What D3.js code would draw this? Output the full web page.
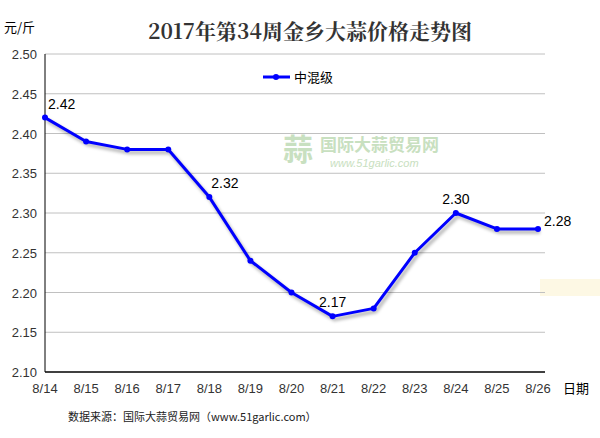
<!DOCTYPE html><html><head><meta charset="utf-8"><script src="https://d3js.org/d3.v7.min.js"></script>
<style>body{margin:0;background:#fff}svg{display:block}</style></head><body><svg id="c" width="600" height="438"></svg>
<script>
const categories=["8/14","8/15","8/16","8/17","8/18","8/19","8/20","8/21","8/22","8/23","8/24","8/25","8/26"];
const values=[2.42,2.39,2.38,2.38,2.32,2.24,2.20,2.17,2.18,2.25,2.30,2.28,2.28];
const yTicks=[2.10,2.15,2.20,2.25,2.30,2.35,2.40,2.45,2.50];
const labeled=[0,4,7,10,12];
const svg=d3.select("#c");
const x=d3.scalePoint().domain(categories).range([45,538]);
const y=d3.scaleLinear().domain([2.10,2.50]).range([372,54]);
svg.append("rect").attr("x",540).attr("y",279).attr("width",60).attr("height",17).attr("fill","#fdf8e4");
svg.append("g").selectAll("line").data(yTicks.slice(1)).join("line").attr("x1",45).attr("x2",545).attr("y1",d=>y(d)).attr("y2",d=>y(d)).attr("stroke","#c0c0c0");
svg.append("line").attr("x1",45).attr("x2",45).attr("y1",54).attr("y2",372).attr("stroke","#000");
svg.append("line").attr("x1",45).attr("x2",545).attr("y1",372).attr("y2",372).attr("stroke","#000").attr("stroke-width",1.5);
const f="Arial, 'Liberation Sans', sans-serif";
const cjk="'Noto Sans CJK SC', sans-serif";
svg.append("g").selectAll("text").data(yTicks).join("text").attr("x",37).attr("y",d=>y(d)+5).attr("text-anchor","end").attr("font-family",f).attr("font-size",13).attr("fill","#333").text(d=>d.toFixed(2));
svg.append("g").selectAll("text").data(categories).join("text").attr("x",d=>x(d)).attr("y",393).attr("text-anchor","middle").attr("font-family",f).attr("font-size",13).attr("fill","#333").text(d=>d);
svg.append("text").attr("x",563).attr("y",393).attr("font-family",cjk).attr("font-size",13).text("日期");
svg.append("text").attr("x",4).attr("y",32).attr("font-family",cjk).attr("font-size",13).text("元/斤");
svg.append("text").attr("x",310).attr("y",39).attr("text-anchor","middle").attr("font-family","'Noto Serif CJK SC','Noto Sans CJK SC',serif").attr("font-weight","bold").attr("font-size",21).attr("fill","#333").text("2017年第34周金乡大蒜价格走势图");
// watermark
svg.append("text").attr("x",283).attr("y",160).attr("font-family",cjk).attr("font-size",30).attr("fill","#c8e0c0").attr("font-weight","bold").text("蒜");
svg.append("text").attr("x",320).attr("y",151).attr("font-family",cjk).attr("font-size",17).attr("fill","#c8e0c0").attr("font-weight","bold").text("国际大蒜贸易网");
svg.append("text").attr("x",330).attr("y",167).attr("font-family",f).attr("font-size",11).attr("font-style","italic").attr("fill","#c8e0c0").text("www.51garlic.com");
// legend
svg.append("line").attr("x1",263).attr("x2",290).attr("y1",77).attr("y2",77).attr("stroke","#0000ff").attr("stroke-width",3);
svg.append("circle").attr("cx",276).attr("cy",77).attr("r",3).attr("fill","#0000ff");
svg.append("text").attr("x",294).attr("y",82).attr("font-family",cjk).attr("font-size",13).text("中混级");
// line
const line=d3.line().x((d,i)=>x(categories[i])).y(d=>y(d));
svg.append("path").datum(values).attr("d",line).attr("fill","none").attr("stroke","rgba(0,0,0,0.25)").attr("stroke-width",4).attr("transform","translate(2,3)").style("filter","blur(1.5px)");
svg.append("path").datum(values).attr("d",line).attr("fill","none").attr("stroke","#0000ff").attr("stroke-width",3).attr("stroke-linejoin","round");
svg.append("g").selectAll("circle").data(values).join("circle").attr("cx",(d,i)=>x(categories[i])).attr("cy",d=>y(d)).attr("r",3).attr("fill","#0000ff");
const dx={0:3,4:2,7:0,10:0,12:6}, anc={0:"start",4:"start",7:"middle",10:"middle",12:"start"};
svg.append("g").selectAll("text").data(labeled).join("text").attr("x",i=>x(categories[i])+dx[i]).attr("y",i=>y(values[i])-(i===12?3:9)).attr("text-anchor",i=>anc[i]).attr("font-family",f).attr("font-size",14).attr("fill","#000").text(i=>values[i].toFixed(2));
svg.append("text").attr("x",68).attr("y",421).attr("font-family","'Noto Sans CJK SC','DejaVu Sans Mono',monospace").attr("font-size",11).attr("fill","#222").text("数据来源：国际大蒜贸易网（www.51garlic.com）");
</script></body></html>
